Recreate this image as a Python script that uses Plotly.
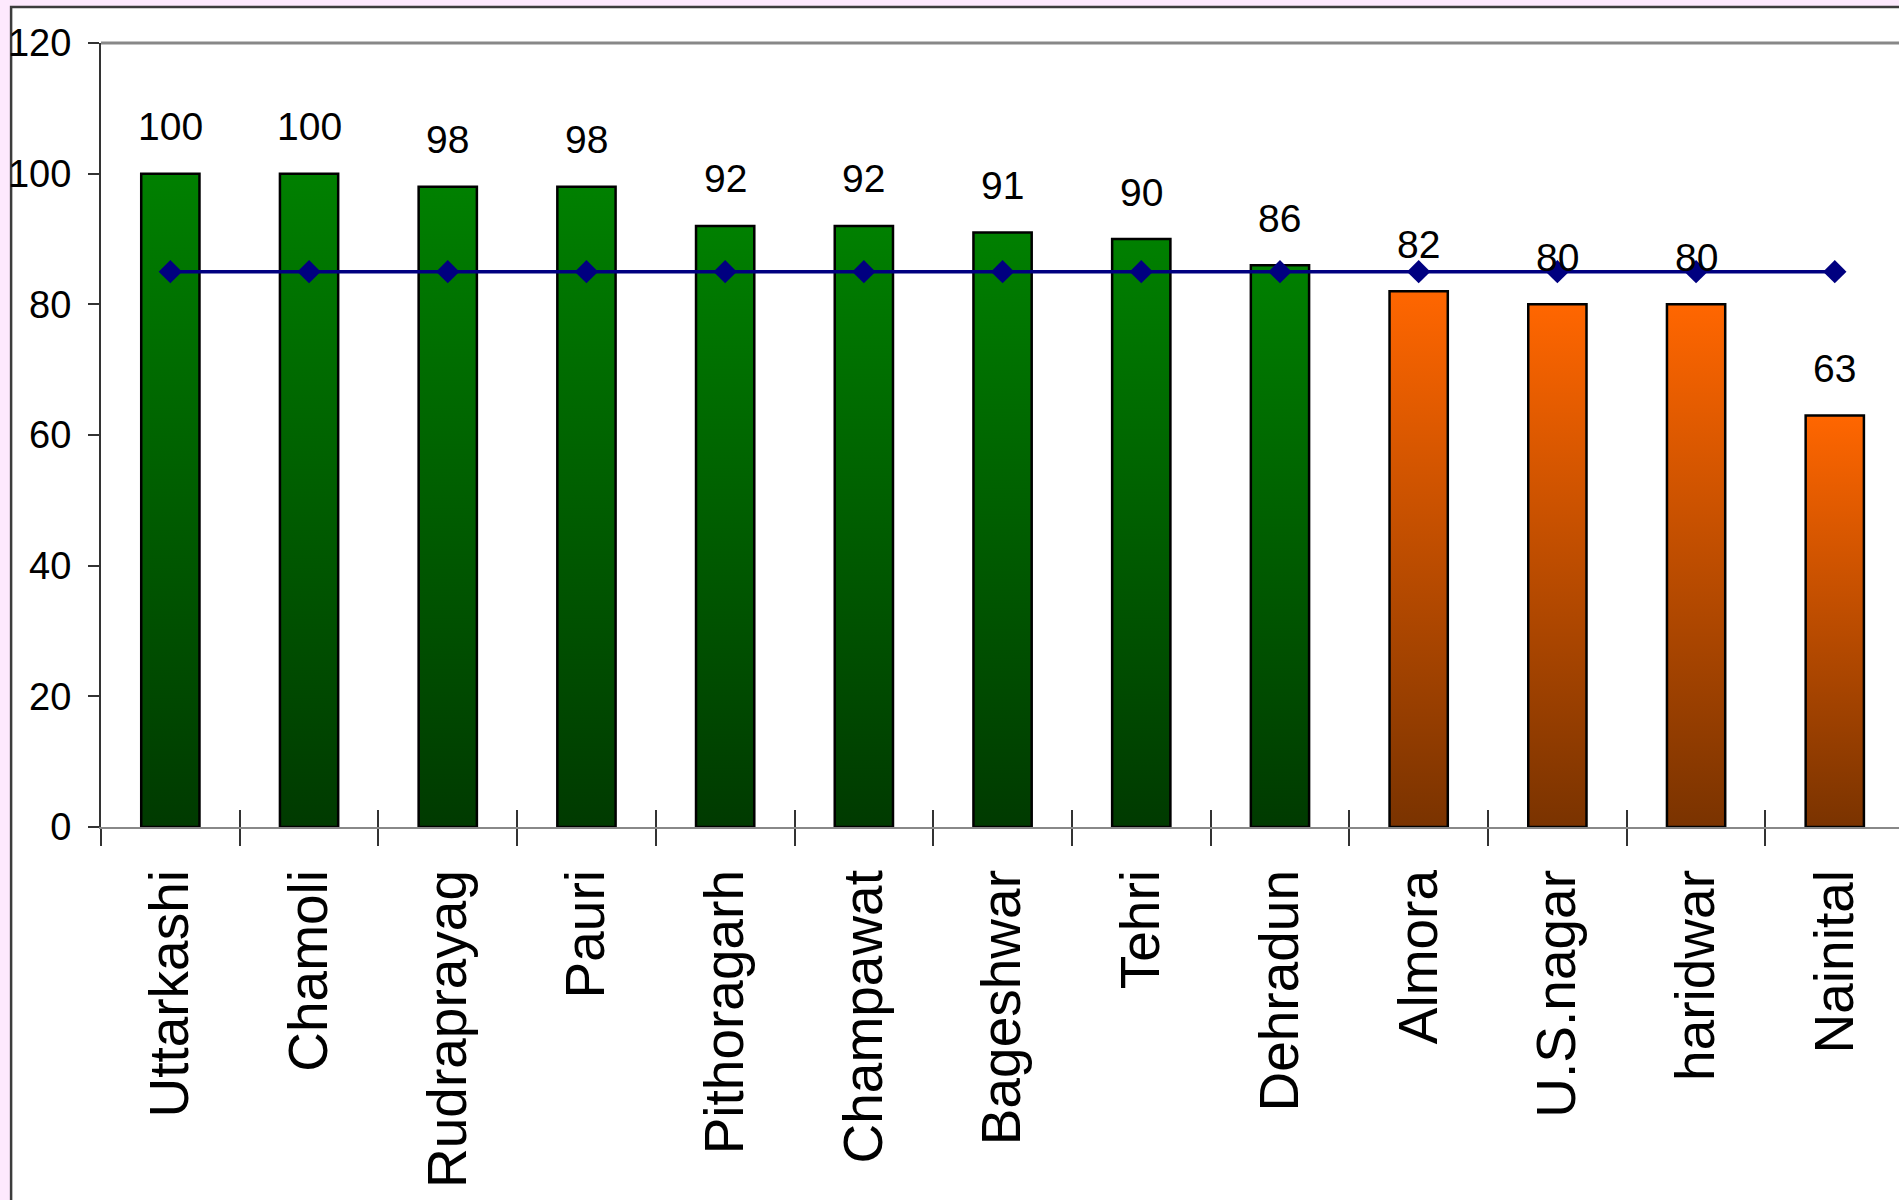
import plotly.graph_objects as go

# ---------------- data ----------------
districts = ["Uttarkashi", "Chamoli", "Rudraprayag", "Pauri", "Pithoragarh",
             "Champawat", "Bageshwar", "Tehri", "Dehradun", "Almora",
             "U.S.nagar", "haridwar", "Nainital"]
coverage = [100, 100, 98, 98, 92, 92, 91, 90, 86, 82, 80, 80, 63]
state_average = [85, 85, 85, 85, 85, 85, 85, 85, 85, 85, 85, 85, 85]
performance = ["above", "above", "above", "above", "above", "above", "above",
               "above", "above", "below", "below", "below", "below"]
y_ticks = [0, 20, 40, 60, 80, 100, 120]

# ---------------- style ----------------
GRADIENTS = {"above": ("#003a00", "#008000"), "below": ("#7a3300", "#ff6600")}
BAR_WIDTH = 0.42
X_RANGE = [-0.5, 12.463]
NUM_FONT = "Liberation Sans Narrow, Arial Narrow, Liberation Sans, Arial"
LBL_FONT = "Liberation Sans, Arial"

fig = go.Figure()

# invisible trace that registers the categories on the label axis
fig.add_trace(go.Scatter(x=districts, y=coverage, mode="markers",
                         marker=dict(opacity=0), hoverinfo="skip",
                         showlegend=False, xaxis="x", yaxis="y2"))

# gradient bars
for i, (v, g) in enumerate(zip(coverage, performance)):
    lo, hi = GRADIENTS[g]
    x0, x1 = i - BAR_WIDTH / 2, i + BAR_WIDTH / 2
    fig.add_trace(go.Scatter(
        x=[x0, x1, x1, x0, x0], y=[0, 0, v, v, 0],
        mode="lines", fill="toself",
        fillgradient=dict(type="vertical", colorscale=[[0, lo], [1, hi]]),
        line=dict(color="black", width=2.5),
        hoverinfo="skip", showlegend=False, xaxis="x2", yaxis="y"))

# state average line
fig.add_trace(go.Scatter(
    x=list(range(len(districts))), y=state_average, mode="lines+markers",
    line=dict(color="#000080", width=3.5),
    marker=dict(symbol="diamond", size=18, color="#000080"),
    showlegend=False, xaxis="x2", yaxis="y"))

# data labels
for i, v in enumerate(coverage):
    fig.add_annotation(x=i, y=v, xref="x2", yref="y", text=str(v),
                       showarrow=False, yanchor="middle", yshift=47,
                       font=dict(family=NUM_FONT, size=39, color="black"))

# white chart-area box with border, and top border line of plot area
fig.add_shape(type="rect", xref="paper", yref="paper",
              x0=-0.05, x1=1.01, y0=-0.5, y1=1.0459,
              fillcolor="white", line=dict(color="#3c3c3c", width=2.5),
              layer="below")
fig.add_shape(type="line", xref="paper", yref="paper", x0=0, x1=1.01,
              y0=1, y1=1, line=dict(color="#888888", width=3))

fig.update_layout(
    width=1899, height=1200,
    margin=dict(l=101, r=0, t=43, b=373, pad=0),
    paper_bgcolor="#fde9fd", plot_bgcolor="white",
    showlegend=False,
    xaxis=dict(type="category", categoryorder="array", categoryarray=districts,
               range=X_RANGE, tickson="boundaries", ticks="outside",
               ticklen=17, tickwidth=1.5, tickcolor="#333333",
               showline=True, linecolor="#888888", linewidth=2,
               showgrid=False, zeroline=False, tickangle=-90,
               tickfont=dict(family=LBL_FONT, size=55, color="black"),
               ticklabelstandoff=19),
    xaxis2=dict(overlaying="x", anchor="y", side="bottom", range=X_RANGE,
                tickvals=[i + 0.5 for i in range(len(districts) - 1)],
                ticks="inside", ticklen=17, tickwidth=1.5,
                tickcolor="#333333", showticklabels=False,
                showgrid=False, zeroline=False, showline=False),
    yaxis=dict(range=[0, 120], tickvals=y_ticks, ticks="outside",
               ticklen=11, tickwidth=1.5, tickcolor="#333333",
               showline=True, linecolor="#333333", linewidth=2,
               showgrid=False, zeroline=False,
               tickfont=dict(family=NUM_FONT, size=38, color="black"),
               ticklabelstandoff=9),
    yaxis2=dict(overlaying="y", anchor="x", side="left", range=[0, 120],
                tickvals=y_ticks, ticks="inside", ticklen=11, tickwidth=1.5,
                tickcolor="#333333", showticklabels=False,
                showgrid=False, zeroline=False, showline=False),
)

fig.write_html("out.html",
               config={"displayModeBar": False},
               post_script="document.body.style.margin='0';"
                           "document.body.style.overflow='hidden';")
